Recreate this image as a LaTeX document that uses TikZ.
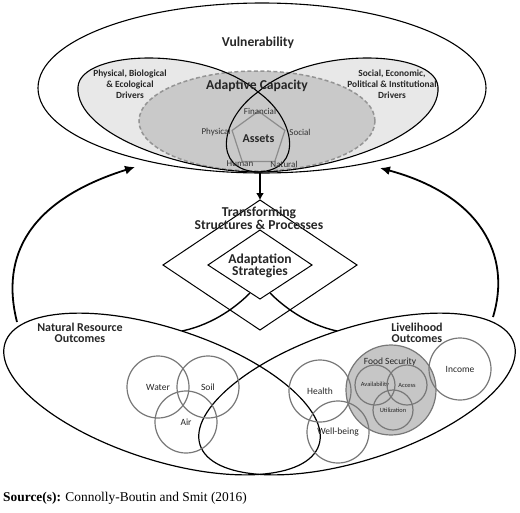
\documentclass[tikz,border=0pt]{standalone}
\usepackage{fontspec}
\setmainfont{Carlito}
\newfontfamily\srcfont{Liberation Serif}
\usetikzlibrary{arrows.meta,shapes.geometric}
\definecolor{lobegray}{HTML}{E8E8E8}
\definecolor{capgray}{HTML}{C9C9C9}
\definecolor{foodgray}{HTML}{C6C6C6}
\definecolor{ringgray}{HTML}{787878}
\definecolor{inkgray}{HTML}{262626}

\begin{document}
\begin{tikzpicture}[x=1pt,y=-1pt,
  outline/.style={draw=black,line width=1.1pt},
  ring/.style={draw=ringgray,line width=1.2pt,circle,inner sep=1pt,text=inkgray},
  bigarrow/.style={line width=1.8pt,-{Latex[length=10pt,width=9pt]}},
  title/.style={font=\bfseries\fontsize{13.6}{11.5}\selectfont,align=center,text=inkgray,inner sep=0pt},
  drivers/.style={font=\bfseries\fontsize{9.4}{10.8}\selectfont,align=center,text=inkgray,inner sep=0pt},
  asset/.style={font=\fontsize{9}{10}\selectfont,text=black!80,inner sep=0pt},
  outcome/.style={font=\bfseries\fontsize{12}{11}\selectfont,align=center,text=inkgray,inner sep=0pt},
  item/.style={font=\fontsize{9.5}{10}\selectfont},
  tiny/.style={font=\fontsize{6.4}{7}\selectfont,minimum size=40pt}]
\useasboundingbox (0,0) rectangle (520,512);

% vulnerability: lobes, adaptive capacity, outer ellipse
\fill[lobegray] (258,172) .. controls (185,172) and (75,135) .. (78,87) .. controls (80,50) and (205,45) .. (258,92) .. controls (295,118) and (305,170) .. (258,172);
\fill[lobegray] (258,172) .. controls (331,172) and (441,135) .. (438,87) .. controls (436,50) and (311,45) .. (258,92) .. controls (221,118) and (211,170) .. (258,172);
\filldraw[fill=capgray,draw=black!42,line width=1.5pt,dash pattern=on 4pt off 2.5pt] (257,121) ellipse [x radius=118pt,y radius=50pt];
\draw[outline] (258,172) .. controls (185,172) and (75,135) .. (78,87) .. controls (80,50) and (205,45) .. (258,92) .. controls (295,118) and (305,170) .. (258,172);
\draw[outline] (258,172) .. controls (331,172) and (441,135) .. (438,87) .. controls (436,50) and (311,45) .. (258,92) .. controls (221,118) and (211,170) .. (258,172);
\draw[outline] (262,88) ellipse [x radius=224pt,y radius=85pt];
\coordinate (vulnbot) at (260,173);
\coordinate (vulnleft) at (135,167);
\coordinate (vulnright) at (380,168);

\node[title] (vuln) at (258,43) {Vulnerability};
\node[drivers] (physdrv) at (130,84) {Physical, Biological\\\& Ecological\\Drivers};
\node[drivers] (socdrv) at (392,84) {Social, Economic,\\Political \& Institutional\\Drivers};
\node[title] (adapt) at (257,86) {Adaptive Capacity};
\node[regular polygon,regular polygon sides=5,draw=black!45,line width=1.2pt,minimum size=44pt,inner sep=0pt,
  font=\bfseries\fontsize{12}{12}\selectfont,text=inkgray] (assets) at (258.5,139) {Assets};
\node[asset] (financial) at (260,111) {Financial};
\node[asset] (physical) at (216,132) {Physical};
\node[asset] (social) at (300,132) {Social};
\node[asset] (human) at (240,164) {Human};
\node[asset] (natural) at (284,164) {Natural};

% structures and strategies
\coordinate (bigtop) at (260,200);
\coordinate (bigleft) at (163,265);
\coordinate (bigbot) at (260,330);
\coordinate (bigright) at (357,265);
\coordinate (smtop) at (260,230);
\coordinate (smleft) at (208,265);
\coordinate (smbot) at (260,299);
\coordinate (smright) at (312,265);
\draw[line width=1pt] (bigtop) -- (bigleft) -- (bigbot) -- (bigright) -- cycle;
\draw[line width=1pt] (smtop) -- (smleft) -- (smbot) -- (smright) -- cycle;
\draw[line width=2.6pt,-{Latex[length=7pt,width=8pt]}] (vulnbot) -- (bigtop);
\node[title] (transform) at (259,218) {Transforming\\Structures \& Processes};
\node[title] (strategies) at (260,266) {Adaptation\\Strategies};

% outcomes
\draw[outline,line width=1.2pt,rotate around={-18:(162,394)}] (162,394) ellipse [x radius=165pt,y radius=66pt];
\draw[outline,line width=1.2pt,rotate around={18:(357,394)}] (357,394) ellipse [x radius=165pt,y radius=66pt];
\coordinate (nrtop) at (182,331);
\coordinate (lhtop) at (337,331);
\coordinate (nrend) at (17,322);
\coordinate (lhend) at (493,317);
\coordinate (smlow) at (250,293);
\coordinate (smlowr) at (270,293);
\draw[line width=1.4pt] (smlow) .. controls (238,305) and (215,324) .. (nrtop);
\draw[line width=1.4pt] (smlowr) .. controls (282,305) and (305,324) .. (lhtop);
\draw[bigarrow] (nrend) .. controls (0,255) and (30,200) .. (vulnleft);
\draw[bigarrow] (lhend) .. controls (512,255) and (480,195) .. (vulnright);

\node[outcome] (nro) at (80,333) {Natural Resource\\Outcomes};
\node[outcome] (lho) at (417,333) {Livelihood\\Outcomes};

\node[ring,item,minimum size=62pt] (water) at (158,387) {Water};
\node[ring,item,minimum size=62pt] (soil) at (208,387) {Soil};
\node[ring,item,minimum size=62pt] (air) at (186,422) {Air};

\node[circle,fill=foodgray,draw=ringgray,line width=1.2pt,minimum size=90pt] (food) at (391,390) {};
\node[item,text=inkgray] (foodlbl) at (390,362) {Food Security};
\node[ring,tiny] (avail) at (375,385) {Availability};
\node[ring,tiny] (access) at (407,385) {Access};
\node[ring,tiny] (util) at (393,410) {Utilization};
\node[ring,item,minimum size=62pt] (health) at (320,391) {Health};
\node[ring,item,minimum size=62pt] (wellbeing) at (338,432) {Well-being};
\node[ring,item,minimum size=62pt] (income) at (460,369) {Income};

\node[anchor=base west,inner sep=0pt,font=\srcfont\fontsize{13.4}{15}\selectfont] (source) at (3,501) {\textbf{Source(s):} Connolly-Boutin and Smit (2016)};
\end{tikzpicture}
\end{document}
